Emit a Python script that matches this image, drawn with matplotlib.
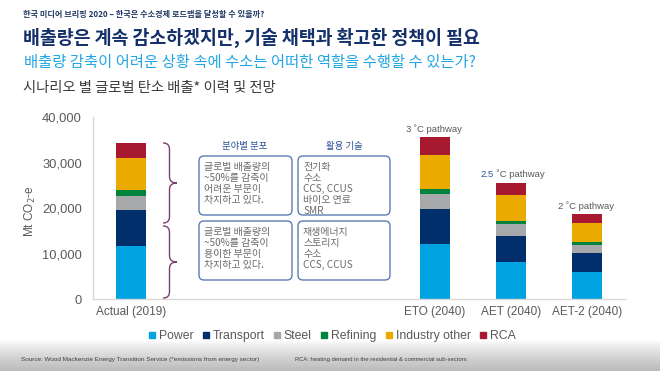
import matplotlib
matplotlib.use("Agg")
import matplotlib.pyplot as plt
import numpy as np
from matplotlib.patches import FancyBboxPatch, PathPatch
from matplotlib.path import Path
from matplotlib.lines import Line2D

# ---------------- data ----------------
categories = ['Actual (2019)', 'ETO (2040)', 'AET (2040)', 'AET-2 (2040)']
power = [11650, 12000, 8200, 6000]
transport = [7840, 7770, 5720, 4110]
steel = [3210, 3220, 2490, 1830]
refining = [1190, 1100, 800, 590]
industry_other = [7030, 7550, 5650, 4170]
rca = [3430, 3880, 2560, 1910]
series_names = ['Power', 'Transport', 'Steel', 'Refining', 'Industry other', 'RCA']
pathways = ['', '3 ˚C pathway', '2.5 ˚C pathway', '2 ˚C pathway']
yticks = [0, 10000, 20000, 30000, 40000]

colors = ['#00A3E0', '#002F6C', '#A7A8AA', '#00843D', '#EAAA00', '#A6192E']
KR = ['Noto Sans CJK KR', 'Liberation Sans', 'DejaVu Sans']
LAT = ['Liberation Sans', 'DejaVu Sans']
GRAY = '#595959'

W, H = 660, 371
fig = plt.figure(figsize=(W / 100, H / 100), dpi=100)
T = fig.dpi_scale_trans


def P(x, y):
    return (x / 100.0, (H - y) / 100.0)


# ---------------- axes ----------------
ax = fig.add_axes([93 / W, 72 / H, 532 / W, 182 / H])
positions = [0, 4, 5, 6]
series = [power, transport, steel, refining, industry_other, rca]
bottom = np.zeros(len(categories))
for vals, c in zip(series, colors):
    ax.bar(positions, vals, width=0.405, bottom=bottom, color=c, linewidth=0)
    bottom += np.array(vals)
ax.set_xlim(-0.5, 6.5)
ax.set_ylim(0, 40000)
ax.set_yticks(yticks)
ax.set_yticklabels([f'{v:,}' for v in yticks], family=LAT, fontsize=9.3, color=GRAY)
ax.set_xticks(positions)
ax.set_xticklabels(categories, family=LAT, fontsize=8.5, color=GRAY)
ax.tick_params(axis='both', length=0)
ax.tick_params(axis='y', pad=8)
ax.tick_params(axis='x', pad=5)
for s in ['top', 'right']:
    ax.spines[s].set_visible(False)
for s in ['left', 'bottom']:
    ax.spines[s].set_color('#D9D9D9')
    ax.spines[s].set_linewidth(1.0)
ax.set_ylabel('Mt CO$_2$-e', family=LAT, fontsize=8.5, color=GRAY)
ax.yaxis.set_label_coords(-0.104, 0.48)
ax.patch.set_alpha(0)

# pathway labels
tot = bottom
for i, lab in enumerate(pathways):
    if not lab:
        continue
    if lab.startswith('2.5'):
        ax.annotate('2.5', (positions[i], tot[i]), xytext=(-12.4, 6.5), textcoords='offset points',
                    ha='right', va='center', family=LAT, fontsize=6.8, color='#2F5597')
        ax.annotate(' ˚C pathway', (positions[i], tot[i]), xytext=(-12.4, 6.5), textcoords='offset points',
                    ha='left', va='center', family=LAT, fontsize=6.8, color=GRAY)
    else:
        ax.annotate(lab, (positions[i], tot[i]), xytext=(-1, 6.0), textcoords='offset points',
                    ha='center', va='center', family=LAT, fontsize=6.8, color=GRAY)

# ---------------- texts at top ----------------
renderer = fig.canvas.get_renderer()


def fit(t, width_px):
    bb = t.get_window_extent(renderer)
    t.set_fontsize(t.get_fontsize() * width_px / bb.width)


t1 = fig.text(*P(23, 14), '한국 미디어 브리핑 2020 – 한국은 수소경제 로드맵을 달성할 수 있을까?',
              transform=T, family=KR, fontsize=5, fontweight='bold', color='#1F3864', va='center')
fit(t1, 240)
t2 = fig.text(*P(23, 38), '배출량은 계속 감소하겠지만, 기술 채택과 확고한 정책이 필요',
              transform=T, family=KR, fontsize=10, fontweight='bold', color='#14306B', va='center')
fit(t2, 457)
t3 = fig.text(*P(24, 62), '배출량 감축이 어려운 상황 속에 수소는 어떠한 역할을 수행할 수 있는가?',
              transform=T, family=KR, fontsize=9, color='#21A6E3', va='center')
fit(t3, 451)
t4 = fig.text(*P(23, 88), '시나리오 별 글로벌 탄소 배출* 이력 및 전망',
              transform=T, family=KR, fontsize=8, fontweight='medium', color='#3A3A3A', va='center')
fit(t4, 254)

# ---------------- boxes ----------------
box_ec = '#5B7DB5'
for (x0, y0, x1, y1) in [(199, 156, 292, 215), (298, 156, 390, 215),
                         (199, 221, 292, 280), (298, 221, 390, 280)]:
    bx, by = P(x0, y1)
    fig.patches.append(FancyBboxPatch((bx, by), (x1 - x0) / 100, (y1 - y0) / 100,
                                      boxstyle='round,pad=0,rounding_size=0.05',
                                      transform=T, fc='white', ec=box_ec, lw=1.0))

fig.text(*P(245, 146), '분야별 분포', transform=T, family=KR, fontsize=6.8, color='#2F5597',
         ha='center', va='center', fontweight='medium')
fig.text(*P(344, 146), '활용 기술', transform=T, family=KR, fontsize=6.8, color='#2F5597',
         ha='center', va='center', fontweight='medium')

box_texts = [
    (204, 167, ['글로벌 배출량의', '~50%를 감축이', '어려운 부문이', '차지하고 있다.']),
    (303, 167, ['전기화', '수소', 'CCS, CCUS', '바이오 연료', 'SMR']),
    (204, 232, ['글로벌 배출량의', '~50%를 감축이', '용이한 부문이', '차지하고 있다.']),
    (303, 232, ['재생에너지', '스토리지', '수소', 'CCS, CCUS']),
]
for x, y, lines in box_texts:
    for k, line in enumerate(lines):
        fig.text(*P(x, y + k * 11), line, transform=T, family=KR, fontsize=7.2,
                 color='#6B6B6B', va='center', ha='left')


# ---------------- braces ----------------
def brace(xl, xr, ytop, ybot):
    ym = (ytop + ybot) / 2
    xs = (xl + xr) / 2 - 0.5
    r = 5
    verts = [P(xl, ytop), P(xs, ytop), P(xs, ytop + r), P(xs, ytop + r + 2),
             P(xs, ym - r - 2),
             P(xs, ym - r), P(xs, ym), P(xr, ym),
             P(xs, ym), P(xs, ym + r), P(xs, ym + r + 2),
             P(xs, ybot - r - 2),
             P(xs, ybot - r), P(xs, ybot), P(xl, ybot)]
    codes = [Path.MOVETO, Path.CURVE4, Path.CURVE4, Path.CURVE4,
             Path.LINETO,
             Path.CURVE4, Path.CURVE4, Path.CURVE4,
             Path.CURVE4, Path.CURVE4, Path.CURVE4,
             Path.LINETO,
             Path.CURVE4, Path.CURVE4, Path.CURVE4]
    fig.patches.append(PathPatch(Path(verts, codes), transform=T, fc='none',
                                 ec='#7E3F6E', lw=1.0))


brace(163, 177, 143, 223)
brace(163, 177, 226, 298)

# ---------------- legend ----------------
handles = [Line2D([], [], marker='s', ls='none', color=c, markersize=4.6) for c in colors]
fig.legend(handles, series_names, loc='center', bbox_to_anchor=(332 / W, 1 - 336 / H),
           ncol=6, frameon=False, handlelength=0.55, handletextpad=0.3, columnspacing=0.72,
           prop={'family': LAT, 'size': 8.8}, labelcolor=GRAY, borderaxespad=0)

# ---------------- footer ----------------
fax = fig.add_axes([0, 0, 1, 31 / H], zorder=-5)
grad = 1.0 - 0.27 * np.linspace(0, 1, 100) ** 0.8
fax.imshow(np.tile(grad[:, None], (1, 10)), aspect='auto', cmap='gray', vmin=0, vmax=1,
           extent=[0, 1, 0, 1], origin='upper')
fax.axis('off')
f1 = fig.text(*P(21, 359), 'Source: Wood Mackenzie Energy Transition Service (*emissions from energy sector)',
              transform=T, family=LAT, fontsize=4.3, color='#404040', va='center')
fit(f1, 242)
f2 = fig.text(*P(295, 359), 'RCA: heating demand in the residential & commercial sub-sectors',
              transform=T, family=LAT, fontsize=4.3, color='#404040', va='center')
fit(f2, 175)

fig.savefig('out.png', dpi=100)
